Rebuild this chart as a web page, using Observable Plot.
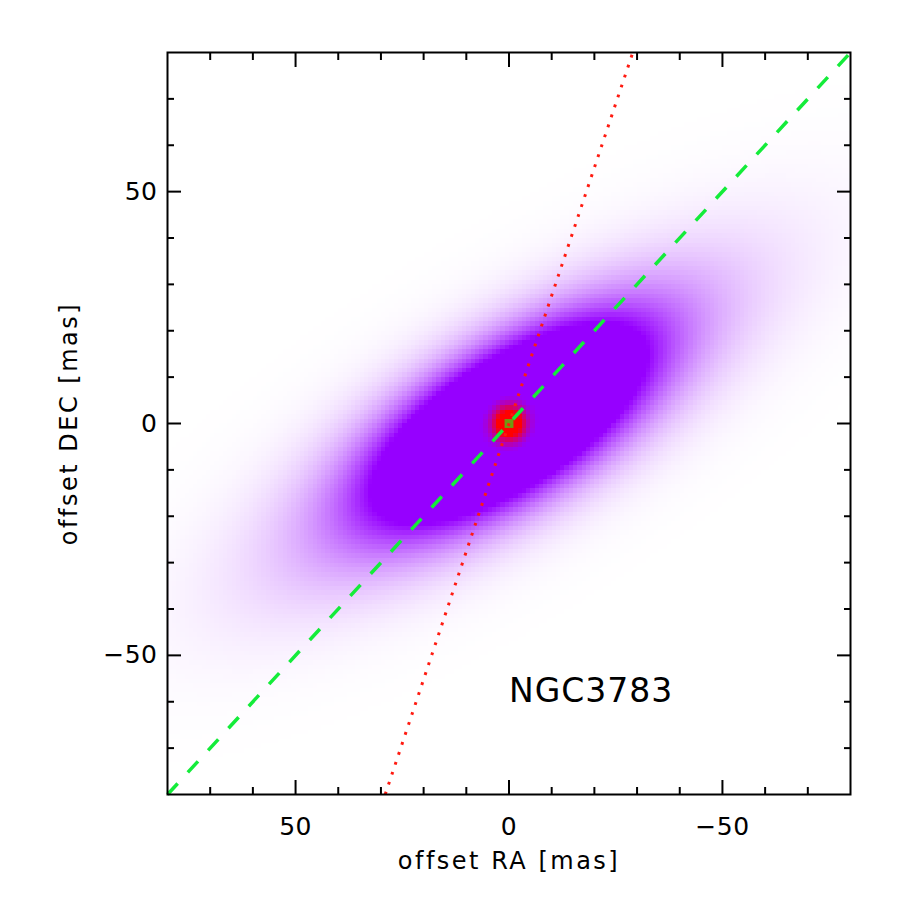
<!DOCTYPE html>
<html>
<head>
<meta charset="utf-8">
<script src="https://cdn.jsdelivr.net/npm/d3@7"></script>
<script src="https://cdn.jsdelivr.net/npm/@observablehq/plot@0.6"></script>
<style>
  html, body { margin: 0; padding: 0; background: #ffffff; }
  #chart svg { display: block; }
</style>
</head>
<body>
<div id="chart"></div>
<script>
// ---------------- data ----------------
const majorTicks = [-50, 0, 50];
const minorTicks = [-70, -60, -40, -30, -20, -10, 10, 20, 30, 40, 60, 70];

// model image components (elliptical Gaussians)
const compNames   = ["extended core", "extended halo", "point source"];
const compAmp     = [2.3, 0.8, 12.0];
const compSigMaj  = [21.0, 37.0, 2.5];   // mas
const compSigMin  = [8.8, 12.0, 2.5];    // mas
const compAngle   = [29, 30, 0];         // deg, major axis from -RA toward +DEC

// colour table of the image
const colorStops = [0, 1, 3.2, 10];
const colorRange = ["#ffffff", "#9600ff", "#9600ff", "#ff0000"];

// overlaid lines through the centre
const greenLineRA  = [80, -80];
const greenLineDEC = [-80, 80];
const redLineRA    = [29, -29];
const redLineDEC   = [-80, 80];

// centre marker
const centerRA  = [0];
const centerDEC = [0];

// label
const sourceName = "NGC3783";
const sourceRA = 0;
const sourceDEC = -57.8;

const xLabel = "offset RA [mas]";
const yLabel = "offset DEC [mas]";

// ---------------- build ----------------
const rad = Math.PI / 180;
function model(x, y) {
  let s = 0;
  for (let i = 0; i < compAmp.length; i++) {
    const c = Math.cos(compAngle[i] * rad), sn = Math.sin(compAngle[i] * rad);
    const u = -x * c + y * sn;
    const v = x * sn + y * c;
    s += compAmp[i] * Math.exp(-0.5 * ((u * u) / (compSigMaj[i] ** 2) + (v * v) / (compSigMin[i] ** 2)));
  }
  return s;
}

const greenLine = greenLineRA.map((ra, i) => ({ra, dec: greenLineDEC[i]}));
const redLine = redLineRA.map((ra, i) => ({ra, dec: redLineDEC[i]}));
const centers = centerRA.map((ra, i) => ({ra, dec: centerDEC[i]}));
const sourceLabel = [{name: sourceName, ra: sourceRA, dec: sourceDEC}];

const font = "DejaVu Sans";
const empty = () => "";

const chart = Plot.plot({
  width: 900,
  height: 900,
  marginLeft: 167,
  marginRight: 50,
  marginTop: 52,
  marginBottom: 106,
  style: {fontFamily: font, background: "#ffffff", color: "#000000"},
  x: {domain: [80, -80]},
  y: {domain: [-80, 80]},
  color: {type: "linear", domain: colorStops, range: colorRange, clamp: true, interpolate: "rgb"},
  marks: [
    Plot.raster({
      x1: -80, x2: 80, y1: -80, y2: 80,
      width: 160, height: 160,
      fill: model,
      imageRendering: "pixelated"
    }),
    Plot.dot(centers, {x: "ra", y: "dec", symbol: "square", r: 5, fill: "#6f9a12", stroke: null}),
    Plot.line(redLine, {x: "ra", y: "dec", stroke: "#ff1a10", strokeWidth: 3, strokeLinecap: "butt", strokeDasharray: "2.8,7.7"}),
    Plot.line(greenLine, {x: "ra", y: "dec", stroke: "#14ec3a", strokeWidth: 3.5, strokeLinecap: "butt", strokeDasharray: "15,15"}),
    Plot.text(sourceLabel, {x: "ra", y: "dec", text: "name", textAnchor: "start", lineAnchor: "middle", fontSize: 33, fill: "#000"}),

    // tick labels
    Plot.axisX({anchor: "bottom", ticks: majorTicks, tickSize: 0, tickPadding: 23, fontSize: 25, label: null}),
    Plot.axisY({anchor: "left", ticks: majorTicks, tickSize: 0, tickPadding: 10, fontSize: 25, label: null}),

    // inward ticks on all sides
    Plot.axisX({anchor: "bottom", ticks: majorTicks, tickSize: -14, tickFormat: empty, label: null, strokeWidth: 2}),
    Plot.axisX({anchor: "bottom", ticks: minorTicks, tickSize: -7, tickFormat: empty, label: null, strokeWidth: 2}),
    Plot.axisX({anchor: "top", ticks: majorTicks, tickSize: -14, tickFormat: empty, label: null, strokeWidth: 2}),
    Plot.axisX({anchor: "top", ticks: minorTicks, tickSize: -7, tickFormat: empty, label: null, strokeWidth: 2}),
    Plot.axisY({anchor: "left", ticks: majorTicks, tickSize: -14, tickFormat: empty, label: null, strokeWidth: 2}),
    Plot.axisY({anchor: "left", ticks: minorTicks, tickSize: -7, tickFormat: empty, label: null, strokeWidth: 2}),
    Plot.axisY({anchor: "right", ticks: majorTicks, tickSize: -14, tickFormat: empty, label: null, strokeWidth: 2}),
    Plot.axisY({anchor: "right", ticks: minorTicks, tickSize: -7, tickFormat: empty, label: null, strokeWidth: 2}),

    // axis titles
    Plot.text([xLabel], {text: d => d, frameAnchor: "bottom", textAnchor: "middle", lineAnchor: "middle", dy: 67, fontSize: 24, fill: "#000"}),
    Plot.text([yLabel], {text: d => d, frameAnchor: "left", textAnchor: "middle", lineAnchor: "middle", rotate: -90, dx: -97.7, fontSize: 24, fill: "#000"}),

    Plot.frame({stroke: "#000", strokeWidth: 2})
  ]
});

const spacing = new Map([[xLabel, "2.5px"], [yLabel, "2.5px"], [sourceName, "1px"]]);
d3.select(chart).selectAll("text").each(function () {
  const t = this.textContent;
  if (spacing.has(t)) this.style.letterSpacing = spacing.get(t);
  else if (/^[−\-]?\d+$/.test(t)) this.style.letterSpacing = "0.5px";
});

document.getElementById("chart").appendChild(chart);
</script>
</body>
</html>
